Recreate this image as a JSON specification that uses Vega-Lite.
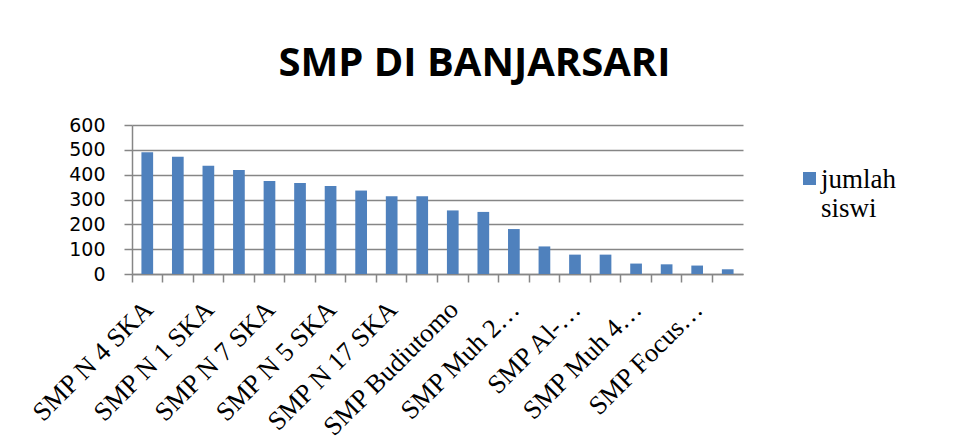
{
  "$schema": "https://vega.github.io/schema/vega-lite/v6.json",
  "width": 611,
  "height": 149,
  "autosize": {"type": "none"},
  "padding": {"left": 132, "top": 125, "right": 214, "bottom": 174},
  "background": "white",
  "title": {
    "text": "SMP DI BANJARSARI",
    "font": "Open Sans",
    "fontSize": 40,
    "fontWeight": "bold",
    "color": "#000000",
    "anchor": "middle",
    "frame": "group",
    "baseline": "alphabetic",
    "offset": 0,
    "dx": 37
  },
  "data": {
    "values": [
      {"sekolah": "SMP N 4 SKA", "jumlah": 490},
      {"sekolah": "SMP N 12 SKA", "jumlah": 472},
      {"sekolah": "SMP N 1 SKA", "jumlah": 436},
      {"sekolah": "SMP N 25 SKA", "jumlah": 419},
      {"sekolah": "SMP N 7 SKA", "jumlah": 374},
      {"sekolah": "SMP N 11 SKA", "jumlah": 366},
      {"sekolah": "SMP N 5 SKA", "jumlah": 354},
      {"sekolah": "SMP N 18 SKA", "jumlah": 336},
      {"sekolah": "SMP N 17 SKA", "jumlah": 313},
      {"sekolah": "SMP N 26 SKA", "jumlah": 313},
      {"sekolah": "SMP Budiutomo", "jumlah": 256},
      {"sekolah": "SMP Muh 10 SKA", "jumlah": 250},
      {"sekolah": "SMP Muh 2…", "jumlah": 181},
      {"sekolah": "SMP Kristen 5…", "jumlah": 111},
      {"sekolah": "SMP Al-…", "jumlah": 78},
      {"sekolah": "SMP Muh 7…", "jumlah": 78},
      {"sekolah": "SMP Muh 4…", "jumlah": 42},
      {"sekolah": "SMP Pancasila…", "jumlah": 39},
      {"sekolah": "SMP Focus…", "jumlah": 34},
      {"sekolah": "SMP Tamtama…", "jumlah": 19}
    ]
  },
  "mark": {"type": "bar", "width": {"band": 0.383}},
  "encoding": {
    "x": {
      "field": "sekolah",
      "type": "nominal",
      "sort": null,
      "scale": {"paddingInner": 0, "paddingOuter": 0},
      "axis": {
        "title": null,
        "bandPosition": 0,
        "labelOffset": 1.5,
        "domainColor": "#868686",
        "domainWidth": 1.5,
        "tickColor": "#868686",
        "tickWidth": 1.5,
        "tickSize": 8,
        "labelFont": "Liberation Serif",
        "labelFontSize": 26.5,
        "labelColor": "#000000",
        "labelAngle": -45,
        "labelAlign": "right",
        "labelBaseline": "middle",
        "labelPadding": 23,
        "labelOverlap": false,
        "labelLimit": 400,
        "labelExpr": "round(datum.index * 19) % 2 == 0 ? datum.label : ''"
      }
    },
    "y": {
      "field": "jumlah",
      "type": "quantitative",
      "scale": {"domain": [0, 600], "nice": false},
      "axis": {
        "title": null,
        "values": [0, 100, 200, 300, 400, 500, 600],
        "grid": true,
        "gridColor": "#868686",
        "gridWidth": 1.5,
        "domainColor": "#868686",
        "domainWidth": 1.5,
        "tickColor": "#868686",
        "tickWidth": 1.5,
        "tickSize": 8,
        "labelFont": "DejaVu Sans",
        "labelFontSize": 19,
        "labelColor": "#000000",
        "labelPadding": 19
      }
    },
    "color": {
      "datum": "jumlah siswi",
      "type": "nominal",
      "scale": {"range": ["#4F81BD"]},
      "legend": {
        "title": null,
        "orient": "none",
        "legendX": 664,
        "legendY": 40,
        "symbolType": "square",
        "symbolSize": 169,
        "symbolStrokeWidth": 0,
        "labelFont": "Liberation Serif",
        "labelFontSize": 27,
        "labelColor": "#000000",
        "labelOffset": -2,
        "labelBaseline": "alphabetic",
        "labelExpr": "['jumlah', 'siswi']",
        "encode": {
          "labels": {"update": {"dy": {"value": 9}, "lineHeight": {"value": 29}}}
        }
      }
    }
  },
  "config": {"view": {"stroke": null}}
}
